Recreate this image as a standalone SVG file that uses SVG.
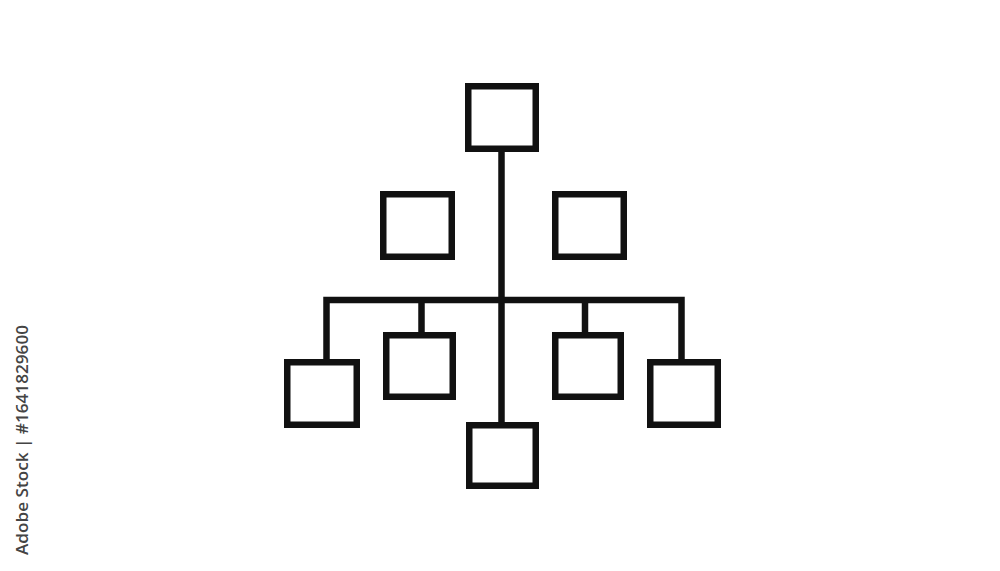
<svg xmlns="http://www.w3.org/2000/svg" width="1000" height="571" viewBox="0 0 1000 571">
<style>
.box{fill:#fff;stroke:#111;stroke-width:6.5}
.ln{stroke:#111;stroke-width:6.5;fill:none;stroke-linecap:butt}
.credit{font-family:"Open Sans","Liberation Sans",sans-serif;font-size:16px;fill:#444;font-weight:600}
</style>
<rect width="1000" height="571" fill="#fff"/>
<g id="connectors">
<line class="ln" x1="501.5" y1="152" x2="501.5" y2="422"/>
<path class="ln" d="M326.5 359 V300 H681.5 V359"/>
<line class="ln" x1="421.5" y1="300" x2="421.5" y2="332"/>
<line class="ln" x1="585" y1="300" x2="585" y2="332"/>
</g>
<g id="node-top"><rect class="box" x="468.25" y="86.25" width="67.5" height="62.5"/></g>
<g id="node-upper-left"><rect class="box" x="383.25" y="194.25" width="68.5" height="62.5"/></g>
<g id="node-upper-right"><rect class="box" x="555.25" y="194.25" width="68.5" height="62.5"/></g>
<g id="node-far-left"><rect class="box" x="287.25" y="362.25" width="69.5" height="62.5"/></g>
<g id="node-inner-left"><rect class="box" x="386.25" y="335.25" width="66.5" height="61.5"/></g>
<g id="node-inner-right"><rect class="box" x="555.25" y="335.25" width="65.5" height="61.5"/></g>
<g id="node-far-right"><rect class="box" x="650.25" y="362.25" width="67.5" height="62.5"/></g>
<g id="node-bottom"><rect class="box" x="469.25" y="425.25" width="66.5" height="60.5"/></g>
<text class="credit" transform="translate(28,555) rotate(-90)" textLength="230" lengthAdjust="spacingAndGlyphs">Adobe Stock | #1641829600</text>
</svg>
